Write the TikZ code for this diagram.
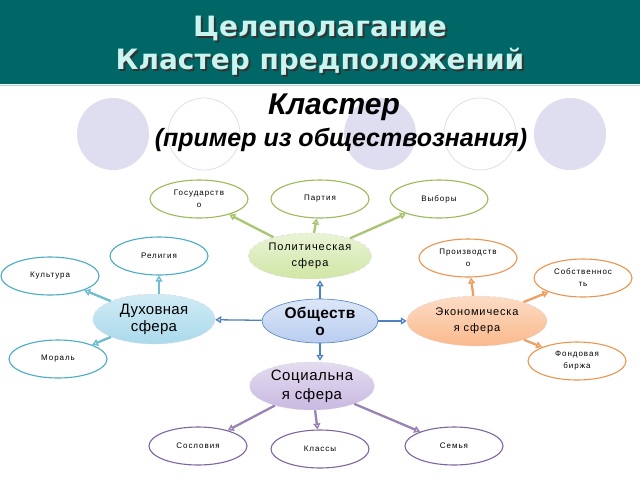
\documentclass[tikz,border=0pt]{standalone}
\usepackage{fontspec}
\setmainfont{Liberation Sans}
\newfontfamily\ttlfont{DejaVu Sans}
\usetikzlibrary{shapes.geometric,arrows.meta}
\definecolor{hdr}{RGB}{0,102,102}
\definecolor{ttl}{RGB}{200,245,240}
\definecolor{grn}{RGB}{155,187,89}
\definecolor{grnf}{RGB}{208,230,165}
\definecolor{blu}{RGB}{75,172,198}
\definecolor{bluf}{RGB}{170,218,236}
\definecolor{org}{RGB}{235,150,80}
\definecolor{orgf}{RGB}{250,185,140}
\definecolor{pur}{RGB}{128,100,162}
\definecolor{purf}{RGB}{200,185,225}
\definecolor{cen}{RGB}{79,129,189}
\definecolor{cenf}{RGB}{185,205,240}
\definecolor{lav}{RGB}{222,222,240}
\tikzset{
  sat/.style={ellipse, draw, line width=1.1pt, fill=white, minimum width=98pt,
    minimum height=38pt, inner sep=0pt, align=center,
    font=\fontsize{8}{12}\selectfont\addfontfeature{LetterSpace=12}},
  hub/.style={ellipse, draw=white!70!gray, dashed, line width=0.5pt, inner sep=0pt,
    align=center},
  arr/.style={line width=2.3pt, -{Triangle[open,length=6pt,width=7pt]}},
  carr/.style={line width=1.3pt, draw=cen, -{Triangle[open,length=6pt,width=7pt]}},
  ttltext/.style={font=\ttlfont\bfseries\fontsize{28}{33}\selectfont, align=center}
}
\begin{document}
\begin{tikzpicture}[x=1pt,y=-1pt]
\useasboundingbox (0,0) rectangle (640,480);
\fill[white] (0,0) rectangle (640,480);
% header
\fill[hdr] (0,0) rectangle (640,84);
\draw[white!70!hdr, line width=1pt] (0,85) -- (640,85);
\node[ttltext, text=black!80] (ttlshadow) at (322,48) {Целеполагание\\Кластер предположений};
\node[ttltext, text=ttl] (ttl) at (320,46) {Целеполагание\\Кластер предположений};
% decorative circles
\fill[lav] (113,134) circle (36);
\draw[lav, line width=0.8pt] (204,134) circle (36);
\fill[lav] (380,134) circle (36);
\draw[lav, line width=0.8pt] (480,134) circle (36);
\fill[lav] (570,134) circle (36);
\node[font=\bfseries\itshape\fontsize{30}{34}\selectfont] (kl) at (334,107) {Кластер};
\node[font=\bfseries\itshape\fontsize{25}{28}\selectfont] (pr) at (341,140) {(пример из обществознания)};
% hubs
\node[hub, minimum width=123pt, minimum height=46pt, top color=grnf!45!white, bottom color=grnf,
  font=\fontsize{11}{16}\selectfont\addfontfeature{LetterSpace=9}] (pol) at (310,256) {Политическая\\сфера};
\node[hub, minimum width=122pt, minimum height=50pt, top color=bluf!55!white, bottom color=bluf,
  font=\fontsize{15}{17}\selectfont\addfontfeature{LetterSpace=2}] (duh) at (154,319) {Духовная\\сфера};
\node[hub, draw=cen, solid, line width=0.6pt, minimum width=116pt, minimum height=44pt,
  top color=cenf!50!white, bottom color=cenf,
  font=\bfseries\fontsize{15.5}{17}\selectfont\addfontfeature{LetterSpace=2}] (ob) at (320,321) {Обществ\\о};
\node[hub, minimum width=140pt, minimum height=50pt, top color=orgf!50!white, bottom color=orgf,
  font=\fontsize{11}{16}\selectfont\addfontfeature{LetterSpace=8}] (eko) at (477,321) {Экономическа\\я сфера};
\node[hub, minimum width=125pt, minimum height=48pt, top color=purf!50!white, bottom color=purf,
  font=\fontsize{15}{19}\selectfont\addfontfeature{LetterSpace=4}] (soc) at (312,386) {Социальна\\я сфера};
% satellites
\node[sat, draw=grn] (gos) at (199,199) {Государств\\о};
\node[sat, draw=grn] (par) at (320,199) {Партия};
\node[sat, draw=grn] (vyb) at (439,199) {Выборы};
\node[sat, draw=blu] (rel) at (159,256) {Религия};
\node[sat, draw=blu] (kul) at (50,276) {Культура};
\node[sat, draw=blu] (mor) at (58,359) {Мораль};
\node[sat, draw=org] (pro) at (468,258) {Производств\\о};
\node[sat, draw=org] (sob) at (583,278) {Собственнос\\ть};
\node[sat, draw=org] (fon) at (577,361) {Фондовая\\биржа};
\node[sat, draw=pur] (sos) at (198,446) {Сословия};
\node[sat, draw=pur] (kla) at (320,449) {Классы};
\node[sat, draw=pur] (sem) at (454,446) {Семья};
% arrows
\draw[arr, draw=grn!85] (pol) -- (gos);
\draw[arr, draw=grn!85] (pol) -- (par);
\draw[arr, draw=grn!85] (pol) -- (vyb);
\draw[arr, draw=blu!80] (duh.north -| rel) -- (rel);
\draw[arr, draw=blu!80] (duh) -- (kul);
\draw[arr, draw=blu!80] (duh) -- (mor);
\draw[arr, draw=org!90] (eko) -- (pro);
\draw[arr, draw=org!90] (eko) -- (sob);
\draw[arr, draw=org!90] (eko) -- (fon);
\draw[arr, draw=pur!80] (soc) -- (sos);
\draw[arr, draw=pur!80] (soc) -- (kla);
\draw[arr, draw=pur!80] (soc) -- (sem);
\coordinate (pt) at ([yshift=-1pt]ob.north |- pol.south);
\coordinate (sb) at ([yshift=1pt]ob.south |- soc.north);
\draw[carr] (ob.north) -- (pt);
\draw[carr] (ob) -- (duh);
\draw[carr] (ob) -- (eko);
\draw[carr] (ob.south) -- (sb);
\end{tikzpicture}
\end{document}
